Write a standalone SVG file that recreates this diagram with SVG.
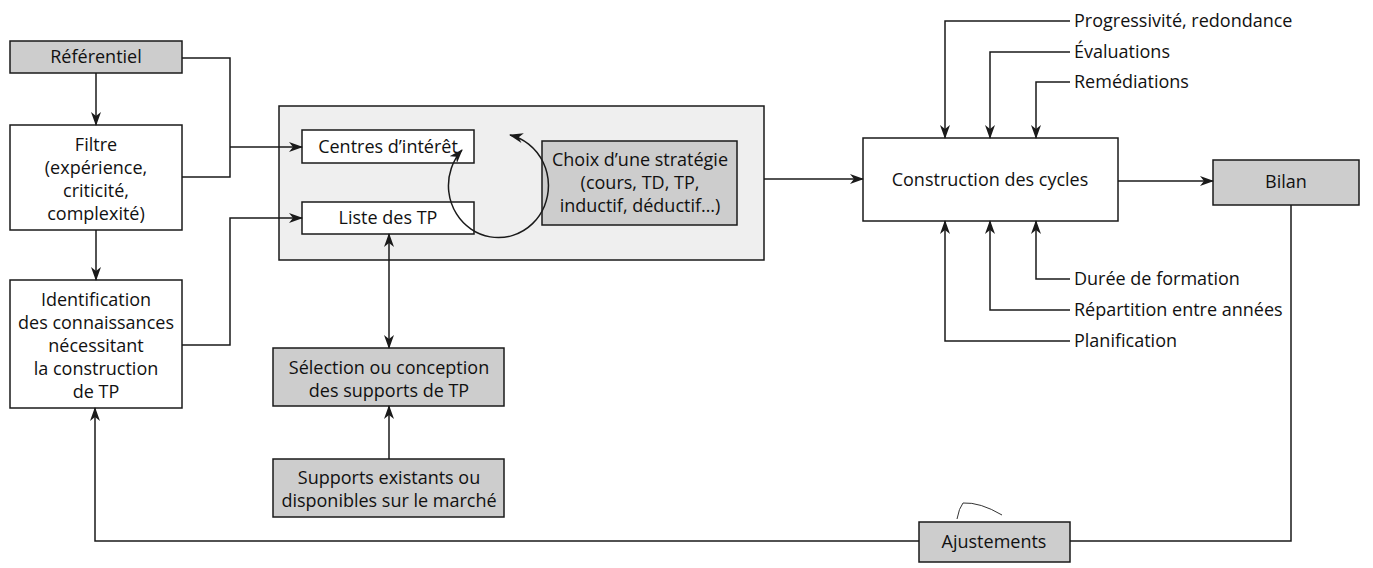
<svg xmlns="http://www.w3.org/2000/svg" width="1373" height="568" viewBox="0 0 1373 568">
<defs>
<style>
.box{fill:#ffffff;stroke:#1a1a1a;stroke-width:1.5}
.grey{fill:#cdcdcd;stroke:#1a1a1a;stroke-width:1.5}
.outer{fill:#efefef;stroke:#1a1a1a;stroke-width:1.5}
.ln{fill:none;stroke:#1a1a1a;stroke-width:1.5}
text{font-family:"Open Sans","Noto Sans",sans-serif;font-size:18px;fill:#111}
.c{text-anchor:middle}
</style>
<marker id="ah" viewBox="0 0 14 10" refX="13" refY="5" markerWidth="14" markerHeight="10" markerUnits="userSpaceOnUse" orient="auto-start-reverse">
<path d="M0,0 L14,5 L0,10 L4,5 z" fill="#1a1a1a"/>
</marker>
</defs>
<rect width="1373" height="568" fill="#ffffff"/>

<g id="outer-group">
<rect class="outer" x="279" y="106" width="485" height="154"/>
</g>

<g id="referentiel">
<rect class="grey" x="10" y="41" width="172" height="32"/>
<text class="c" x="96" y="63">Référentiel</text>
</g>
<g id="filtre">
<rect class="box" x="10" y="125" width="172" height="105"/>
<text class="c" x="96" y="151">Filtre</text>
<text class="c" x="96" y="174">(expérience,</text>
<text class="c" x="96" y="197">criticité,</text>
<text class="c" x="96" y="220">complexité)</text>
</g>
<g id="identification">
<rect class="box" x="10" y="280" width="172" height="128"/>
<text class="c" x="96" y="306">Identification</text>
<text class="c" x="96" y="329">des connaissances</text>
<text class="c" x="96" y="352">nécessitant</text>
<text class="c" x="96" y="375">la construction</text>
<text class="c" x="96" y="398">de TP</text>
</g>
<g id="centres">
<rect class="box" x="302" y="130" width="172" height="33"/>
<text class="c" x="388" y="153">Centres d’intérêt</text>
</g>
<g id="liste">
<rect class="box" x="302" y="202" width="172" height="32"/>
<text class="c" x="388" y="224">Liste des TP</text>
</g>
<g id="choix">
<rect class="grey" x="542" y="141" width="195" height="84"/>
<text class="c" x="640" y="166">Choix d’une stratégie</text>
<text class="c" x="640" y="189">(cours, TD, TP,</text>
<text class="c" x="640" y="212">inductif, déductif…)</text>
</g>
<g id="selection">
<rect class="grey" x="273" y="348" width="231" height="58"/>
<text class="c" x="389" y="374">Sélection ou conception</text>
<text class="c" x="389" y="397">des supports de TP</text>
</g>
<g id="supports">
<rect class="grey" x="273" y="459" width="231" height="58"/>
<text class="c" x="389" y="484">Supports existants ou</text>
<text class="c" x="389" y="507">disponibles sur le marché</text>
</g>
<g id="construction">
<rect class="box" x="863" y="138" width="255" height="83"/>
<text class="c" x="990" y="186">Construction des cycles</text>
</g>
<g id="bilan">
<rect class="grey" x="1213" y="160" width="146" height="45"/>
<text class="c" x="1286" y="188">Bilan</text>
</g>
<g id="ajustements">
<rect class="grey" x="919" y="522" width="151" height="40"/>
<text class="c" x="994" y="548">Ajustements</text>
</g>
<g id="labels">
<text x="1074" y="27">Progressivité, redondance</text>
<text x="1074" y="58">Évaluations</text>
<text x="1074" y="88">Remédiations</text>
<text x="1074" y="285">Durée de formation</text>
<text x="1074" y="316">Répartition entre années</text>
<text x="1074" y="347">Planification</text>
</g>

<g id="connectors">
<path class="ln" d="M96,73 V125" marker-end="url(#ah)"/>
<path class="ln" d="M96,230 V280" marker-end="url(#ah)"/>
<path class="ln" d="M182,58 H230 V177 H182"/>
<path class="ln" d="M230,147 H302" marker-end="url(#ah)"/>
<path class="ln" d="M182,345 H230 V218 H302" marker-end="url(#ah)"/>
<path class="ln" d="M510,135 A50 52 0 1 1 462,150" marker-start="url(#ah)" marker-end="url(#ah)"/>
<path class="ln" d="M389,234 V348" marker-start="url(#ah)" marker-end="url(#ah)"/>
<path class="ln" d="M389,459 V406" marker-end="url(#ah)"/>
<path class="ln" d="M764,179 H863" marker-end="url(#ah)"/>
<path class="ln" d="M1118,181 H1213" marker-end="url(#ah)"/>
<path class="ln" d="M1070,21 H945 V138" marker-end="url(#ah)"/>
<path class="ln" d="M1070,52 H990 V138" marker-end="url(#ah)"/>
<path class="ln" d="M1070,82 H1036 V138" marker-end="url(#ah)"/>
<path class="ln" d="M1070,279 H1036 V221" marker-end="url(#ah)"/>
<path class="ln" d="M1070,310 H990 V221" marker-end="url(#ah)"/>
<path class="ln" d="M1070,341 H945 V221" marker-end="url(#ah)"/>
<path class="ln" d="M1291,205 V541 H1070"/>
<path class="ln" d="M919,541 H95 V408" marker-end="url(#ah)"/>
</g>
<path d="M957,519 Q959,508 963,503 Q980,502 1002,515" fill="none" stroke="#333" stroke-width="1"/>
</svg>
